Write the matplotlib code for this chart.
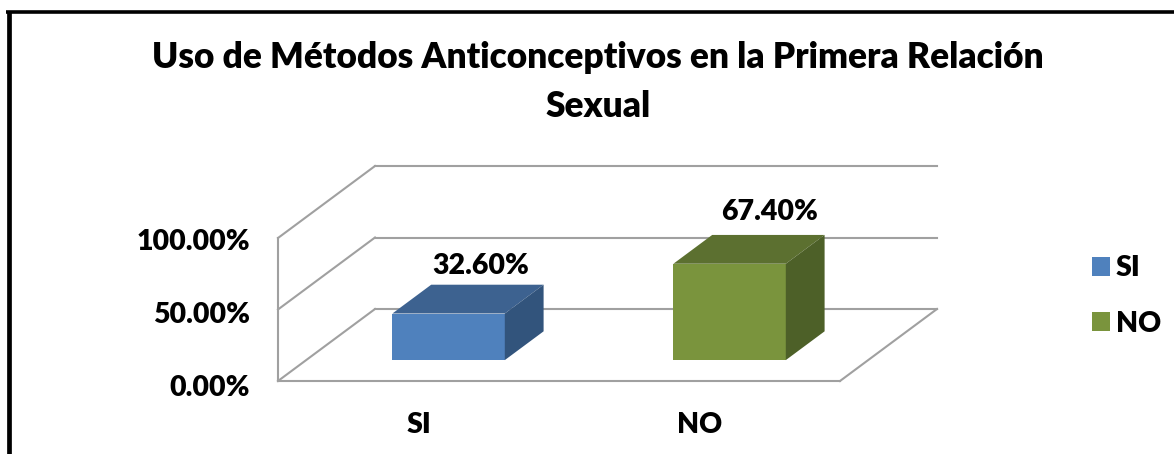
import matplotlib
matplotlib.use("Agg")
import matplotlib.pyplot as plt
from matplotlib.patches import Polygon, Patch
from matplotlib.lines import Line2D
from matplotlib.transforms import ScaledTranslation

plt.rcParams['font.family'] = ['Lato', 'DejaVu Sans']
plt.rcParams['font.weight'] = 'heavy'

title = "Uso de Métodos Anticonceptivos en la Primera Relación\nSexual"
categories = ["SI", "NO"]
values = [32.6, 67.4]
value_labels = ["32.60%", "67.40%"]
yticks = [0, 50, 100]
ytick_labels = ["0.00%", "50.00%", "100.00%"]

front_colors = ["#4F81BD", "#7A943D"]
top_colors = ["#3D6290", "#5C7030"]
side_colors = ["#32547C", "#4D6028"]
grid_color = "#A0A0A0"

W, H = 1174, 454
fig = plt.figure(figsize=(W / 100, H / 100), dpi=100)
ax = fig.add_axes([278 / W, 1 - 381 / H, (840 - 278) / W, (381 - 238) / H])
ax.set_xlim(0, 2)
ax.set_ylim(0, 100)
for s in ax.spines.values():
    s.set_visible(False)

# oblique projection, depth 0 = front of the floor, depth 1 = back wall
dx_depth = 97 / 281
dy_depth = 72 / 1.43


def proj(x, y, d):
    return x + d * dx_depth, y + d * dy_depth


def line(p, q):
    ax.plot([p[0], q[0]], [p[1], q[1]], color=grid_color, lw=1.5, clip_on=False, zorder=1)


line(proj(0, 0, 0), proj(0, 100, 0))
for v in yticks:
    line(proj(0, v, 0), proj(0, v, 1))
    line(proj(0, v, 1), proj(2, v, 1))
line(proj(0, 0, 0), proj(2, 0, 0))
line(proj(2, 0, 0), proj(2, 0, 1))

bar_w = 0.40
bar_shift = 0.007
d0, d1 = 0.29, 0.69
label_offsets = [(-3.5, 4), (2, 7)]
for i, v in enumerate(values):
    l = i + 0.5 - bar_w / 2 + bar_shift
    r = i + 0.5 + bar_w / 2 + bar_shift
    ax.add_patch(Polygon([proj(l, 0, d0), proj(r, 0, d0), proj(r, v, d0), proj(l, v, d0)],
                         fc=front_colors[i], ec="none", clip_on=False, zorder=3))
    ax.add_patch(Polygon([proj(l, v, d0), proj(r, v, d0), proj(r, v, d1), proj(l, v, d1)],
                         fc=top_colors[i], ec="none", clip_on=False, zorder=3))
    ax.add_patch(Polygon([proj(r, 0, d0), proj(r, 0, d1), proj(r, v, d1), proj(r, v, d0)],
                         fc=side_colors[i], ec="none", clip_on=False, zorder=3))
    tx, ty = proj(i + 0.5, v, d1)
    ax.annotate(value_labels[i], (tx, ty), xytext=label_offsets[i], textcoords="offset points",
                ha="center", va="bottom", fontsize=20.5, color="black", zorder=4,
                annotation_clip=False)

ax.set_xticks([0.5, 1.5])
ax.set_xticklabels(categories, fontsize=20.5)
ax.set_yticks(yticks)
ax.set_yticklabels(ytick_labels, fontsize=20.5)
ax.tick_params(length=0, pad=22, axis="x")
ax.tick_params(length=0, pad=20, axis="y")
for k, lbl in enumerate(ax.get_yticklabels()):
    lbl.set_transform(lbl.get_transform() + ScaledTranslation(0, (-4 + k) / 100, fig.dpi_scale_trans))

fig.text(598 / W, 1 - 82 / H, title, ha="center", va="center", fontsize=25.35,
         linespacing=1.56, color="black")

handles = [Patch(fc=c, ec="none") for c in front_colors]
fig.legend(handles, categories, loc="center left", bbox_to_anchor=(1092 / W, 1 - 296 / H),
           frameon=False, fontsize=20.5, handlelength=0.63, handleheight=0.63, handletextpad=0.2,
           labelspacing=1.02, borderpad=0, borderaxespad=0)

# black frame around the chart, cut off at the right and bottom
fig.add_artist(Line2D([8.5 / W, 8.5 / W], [0, 1 - 11 / H], color="black", lw=3.4, solid_capstyle="butt"))
fig.add_artist(Line2D([6 / W, 1], [1 - 11.5 / H, 1 - 11.5 / H], color="black", lw=2.6, solid_capstyle="butt"))

fig.savefig("out.png", dpi=100)
